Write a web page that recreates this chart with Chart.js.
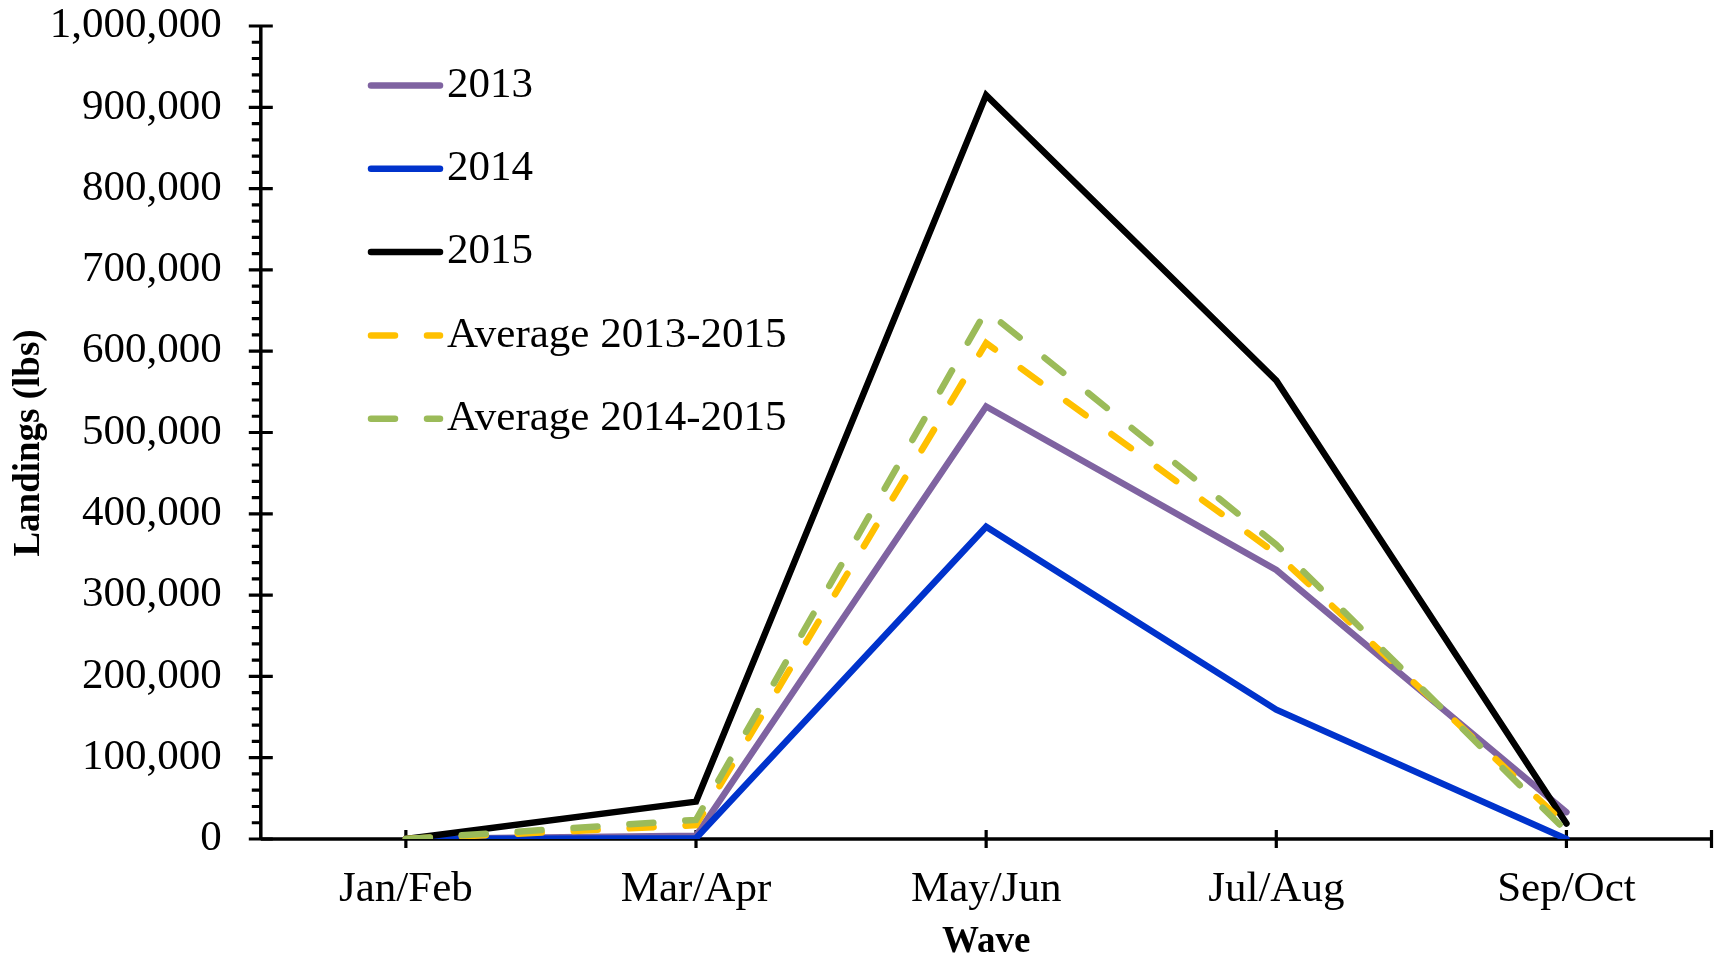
<!DOCTYPE html>
<html>
<head>
<meta charset="utf-8">
<script src="https://cdn.jsdelivr.net/npm/chart.js@4.4.1/dist/chart.umd.min.js"></script>
<style>
  html, body { margin: 0; padding: 0; background: #ffffff; }
  #wrap { width: 1718px; height: 958px; }
</style>
</head>
<body>
<div id="wrap"><canvas id="grafik" width="1718" height="958"></canvas></div>
<script>
// ---- data ----
const waves = ["Jan/Feb", "Mar/Apr", "May/Jun", "Jul/Aug", "Sep/Oct"];
const landings2013 = [0, 4000, 532000, 331000, 33000];
const landings2014 = [0, 1000, 384000, 159000, 0];
const landings2015 = [0, 46000, 915000, 564000, 19000];
const avg2013to2015 = [0, 17000, 610000, 351000, 17000];
const avg2014to2015 = [0, 23500, 650000, 362000, 9500];

const seriesLabels = ["2013", "2014", "2015", "Average 2013-2015", "Average 2014-2015"];
const yTitle = "Landings (lbs)";
const xTitle = "Wave";
const yMin = 0;
const yMax = 1000000;
const yStep = 100000;
const yMinorStep = 20000;

const FONT = "'Liberation Serif', 'Times New Roman', serif";
const LINE_W = 6.5;
const DASH = [24, 32];

// axes drawn by hand: Excel-style crossing major ticks + small minor ticks
const axisPlugin = {
  id: "axisLines",
  beforeDatasetsDraw(chart) {
    const { ctx, chartArea: a, scales: { x, y } } = chart;
    ctx.save();
    ctx.strokeStyle = "#000";
    ctx.lineCap = "butt";
    ctx.lineWidth = 3.5;
    ctx.beginPath();
    ctx.moveTo(a.left, a.top);
    ctx.lineTo(a.left, a.bottom);
    ctx.moveTo(a.left, a.bottom);
    ctx.lineTo(a.right, a.bottom);
    ctx.stroke();

    ctx.lineWidth = 3.2;
    ctx.beginPath();
    for (let v = yMin; v <= yMax; v += yMinorStep) {
      const py = y.getPixelForValue(v);
      if (v % yStep === 0) {
        ctx.moveTo(a.left - 12, py);
        ctx.lineTo(a.left + 12, py);
      } else {
        ctx.moveTo(a.left - 9, py);
        ctx.lineTo(a.left, py);
      }
    }
    waves.forEach((w, i) => {
      const px = x.getPixelForValue(i);
      ctx.moveTo(px, a.bottom - 9);
      ctx.lineTo(px, a.bottom + 9);
    });
    ctx.moveTo(a.right, a.bottom - 9);
    ctx.lineTo(a.right, a.bottom + 9);
    ctx.stroke();
    ctx.restore();
  }
};

// legend sits inside the plot, top-left; y title drawn here too (sits a bit below centre)
const legendPlugin = {
  id: "legendInside",
  afterDraw(chart) {
    const { ctx } = chart;
    ctx.save();
    chart.data.datasets.forEach((ds, i) => {
      const cy = 85.5 + i * 83.3;
      ctx.beginPath();
      ctx.strokeStyle = ds.borderColor;
      ctx.lineWidth = ds.borderWidth;
      ctx.lineCap = "round";
      ctx.setLineDash(ds.borderDash || []);
      ctx.moveTo(371, cy);
      ctx.lineTo(440, cy);
      ctx.stroke();
      ctx.setLineDash([]);
      ctx.fillStyle = "#000";
      ctx.font = "43px " + FONT;
      ctx.textAlign = "left";
      ctx.textBaseline = "middle";
      ctx.fillText(ds.label, 447, cy);
    });

    ctx.translate(29.5, 443);
    ctx.rotate(-Math.PI / 2);
    ctx.fillStyle = "#000";
    ctx.font = "bold 37px " + FONT;
    ctx.textAlign = "center";
    ctx.textBaseline = "middle";
    ctx.fillText(yTitle, 0, 0);
    ctx.restore();
  }
};

function makeSeries(label, data, color, dashed, order) {
  return {
    label: label,
    data: data,
    borderColor: color,
    backgroundColor: color,
    borderWidth: LINE_W,
    borderDash: dashed ? DASH : [],
    borderCapStyle: "round",
    borderJoinStyle: "miter",
    pointRadius: 0,
    tension: 0,
    fill: false,
    order: order
  };
}

new Chart(document.getElementById("grafik"), {
  type: "line",
  data: {
    labels: waves,
    datasets: [
      makeSeries(seriesLabels[0], landings2013, "#7F63A1", false, 5),
      makeSeries(seriesLabels[1], landings2014, "#0033CC", false, 4),
      makeSeries(seriesLabels[2], landings2015, "#000000", false, 3),
      makeSeries(seriesLabels[3], avg2013to2015, "#FFC000", true, 2),
      makeSeries(seriesLabels[4], avg2014to2015, "#9BBB59", true, 1)
    ]
  },
  options: {
    responsive: false,
    devicePixelRatio: 1,
    animation: false,
    layout: { padding: { top: 26, right: 6.5, left: 0, bottom: 0 } },
    plugins: {
      legend: { display: false },
      tooltip: { enabled: false }
    },
    scales: {
      x: {
        offset: true,
        grid: { display: false, drawTicks: false },
        border: { display: false },
        ticks: {
          color: "#000",
          font: { family: FONT, size: 43 },
          padding: 25,
          maxRotation: 0,
          autoSkip: false
        },
        title: {
          display: true,
          text: xTitle,
          color: "#000",
          font: { family: FONT, size: 37, weight: "bold", lineHeight: 0.84 },
          padding: { top: 0, bottom: 0 }
        },
        afterFit(scale) {
          scale.height = 119;
          scale.paddingLeft = 0;
          scale.paddingRight = 0;
        }
      },
      y: {
        min: yMin,
        max: yMax,
        grid: { display: false, drawTicks: false },
        border: { display: false },
        ticks: {
          stepSize: yStep,
          color: "#000",
          font: { family: FONT, size: 43 },
          padding: 39,
          callback: (v) => Number(v).toLocaleString("en-US")
        },
        title: { display: false },
        afterFit(scale) {
          scale.width = 260.8;
          scale.paddingTop = 0;
          scale.paddingBottom = 0;
        }
      }
    }
  },
  plugins: [axisPlugin, legendPlugin]
});
</script>
</body>
</html>
